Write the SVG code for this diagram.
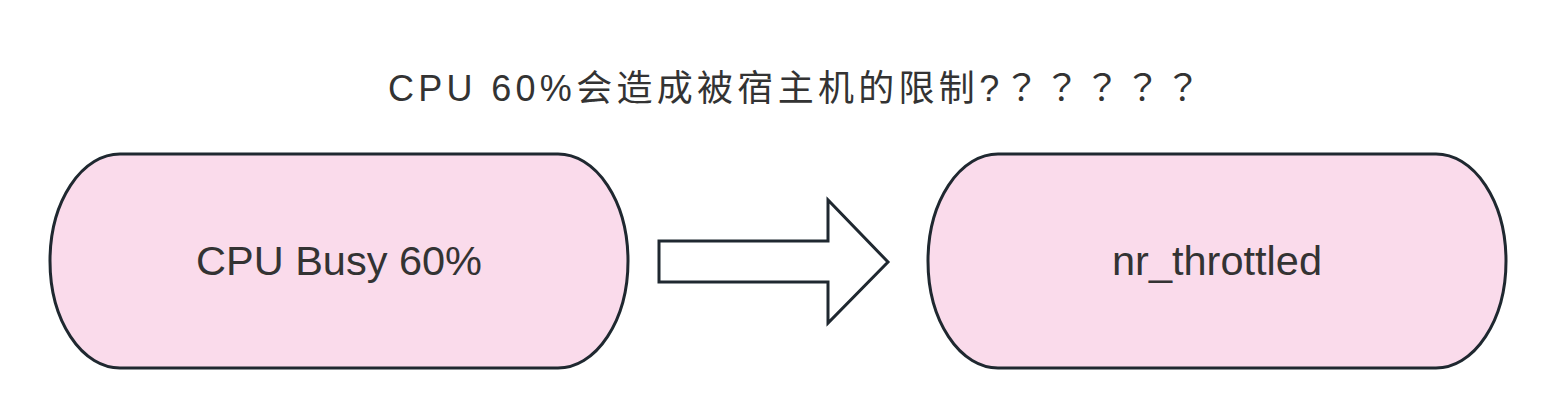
<svg xmlns="http://www.w3.org/2000/svg" width="1556" height="418" viewBox="0 0 1556 418">
  <style>
    .node { fill: #fadbeb; stroke: #1f2830; stroke-width: 3; }
    .label { font-family: "Liberation Sans", "Noto Sans CJK SC", sans-serif; fill: #333333; }
    .fw { font-family: "Noto Sans CJK JP", sans-serif; }
    .nodeText { font-size: 41.5px; text-anchor: middle; }
    .arrow { fill: #ffffff; stroke: #1f2830; stroke-width: 3; stroke-linejoin: miter; }
  </style>
  <rect width="1556" height="418" fill="#ffffff"/>
  <g id="title">
    <text class="label" x="388" y="101" font-size="36" letter-spacing="4.3">CPU 60%会造成被宿主机的限制?<tspan class="fw">？？？？？</tspan></text>
  </g>
  <g id="node-cpu-busy">
    <rect class="node" x="50" y="154" width="578" height="214" rx="70" ry="107"/>
    <text class="label nodeText" x="339" y="275">CPU Busy 60%</text>
  </g>
  <g id="node-nr-throttled">
    <rect class="node" x="928" y="154" width="578" height="214" rx="70" ry="107"/>
    <text class="label nodeText" x="1217" y="275">nr_throttled</text>
  </g>
  <g id="connectors">
    <polygon class="arrow" points="659,241 828,241 828,200 888,262 828,323 828,282 659,282"/>
  </g>
</svg>
